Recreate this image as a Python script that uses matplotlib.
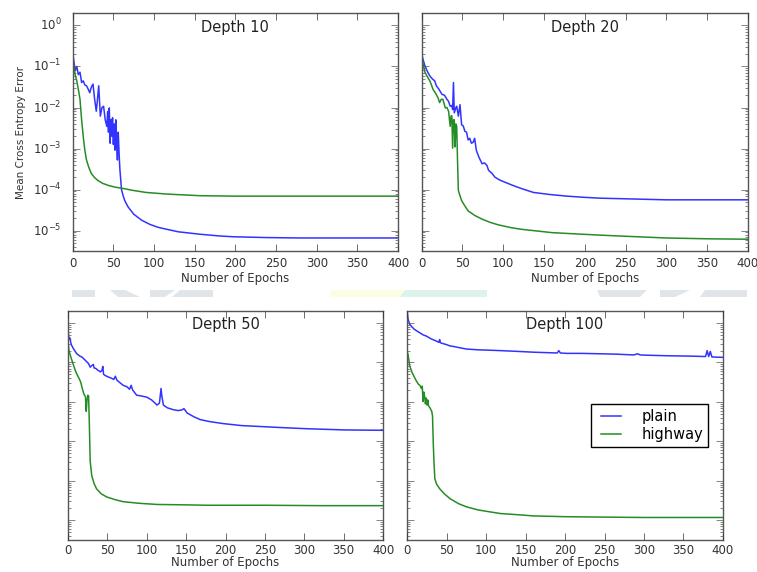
import numpy as np
import matplotlib
matplotlib.use("Agg")
import matplotlib.pyplot as plt
from matplotlib.patches import Polygon
from matplotlib import ticker

plt.style.use("classic")
plt.rcParams["figure.facecolor"] = "white"
plt.rcParams["savefig.facecolor"] = "white"
plt.rcParams["font.family"] = ["DejaVu Sans"]
plt.rcParams["mathtext.default"] = "regular"

# values: epoch, log10(mean cross entropy error)
d10_plain_ep = [0, 1, 3, 5, 7, 9, 11, 13, 15, 17, 19, 21, 23, 25, 27, 29, 30, 32, 34, 36, 38, 40,
                42, 43, 44, 45, 46, 47, 48, 49, 50, 51, 52, 53, 54, 55, 56, 57, 58, 60, 62, 64, 68,
                75, 85, 95, 105, 116, 130, 157, 180, 197, 238, 280, 320, 360, 400]
d10_plain = [-0.69, -0.8, -1.1, -1.0, -1.2, -1.14, -1.39, -1.35, -1.45, -1.47, -1.55, -1.64, -1.5,
             -1.43, -1.8, -2.09, -1.9, -1.47, -2.21, -2.0, -1.97, -2.3, -2.46, -2.1, -2.6, -2.01,
             -2.87, -2.3, -2.7, -2.25, -2.9, -2.4, -3.04, -2.3, -2.9, -3.28, -2.6, -3.1, -3.5,
             -4.0, -4.15, -4.27, -4.42, -4.6, -4.75, -4.85, -4.92, -4.97, -5.03, -5.09, -5.13,
             -5.15, -5.17, -5.18, -5.18, -5.18, -5.18]
d10_highway_ep = [0, 1, 3, 5, 7, 9, 11, 13, 15, 17, 20, 23, 27, 31, 37, 44, 52, 64, 74, 90, 116,
                  157, 200, 238, 300, 400]
d10_highway = [-0.8, -0.98, -1.19, -1.35, -1.56, -1.8, -2.3, -2.71, -3.05, -3.28, -3.47, -3.61,
               -3.71, -3.78, -3.85, -3.9, -3.94, -3.98, -4.02, -4.07, -4.11, -4.15, -4.16, -4.16,
               -4.16, -4.16]

d20_plain_ep = [0, 2, 4, 7, 10, 13, 16, 18, 21, 25, 28, 31, 33, 35, 37, 38, 39, 40, 42, 43, 45,
                47, 49, 51, 53, 55, 57, 59, 61, 63, 65, 67, 70, 74, 77, 80, 82, 86, 90, 96, 102,
                112, 123, 137, 157, 178, 200, 219, 260, 300, 350, 400]
d20_plain = [-0.69, -0.85, -0.98, -1.12, -1.23, -1.3, -1.35, -1.47, -1.55, -1.68, -1.7, -1.8,
             -1.85, -1.97, -1.95, -2.05, -1.39, -2.13, -2.0, -1.97, -2.21, -1.93, -2.42, -2.45,
             -2.58, -2.6, -2.79, -2.75, -2.87, -2.85, -2.75, -3.04, -3.2, -3.37, -3.35, -3.41,
             -3.53, -3.6, -3.7, -3.77, -3.82, -3.9, -3.98, -4.07, -4.12, -4.16, -4.19, -4.21,
             -4.23, -4.25, -4.25, -4.25]
d20_highway_ep = [0, 2, 4, 7, 10, 12, 14, 17, 20, 22, 24, 26, 29, 31, 33, 35, 36, 37, 38, 39, 40,
                  41, 42, 43, 44, 45, 47, 49, 53, 57, 65, 74, 84, 94, 110, 123, 137, 160, 198,
                  240, 300, 350, 400]
d20_highway = [-0.77, -0.95, -1.14, -1.25, -1.35, -1.45, -1.56, -1.65, -1.76, -1.88, -1.8, -1.8,
               -2.01, -2.0, -2.09, -2.46, -2.21, -2.2, -2.99, -2.3, -2.3, -2.96, -2.4, -2.46,
               -3.3, -4.02, -4.15, -4.27, -4.4, -4.52, -4.63, -4.72, -4.8, -4.86, -4.93, -4.97,
               -5.0, -5.05, -5.09, -5.13, -5.18, -5.2, -5.21]

d50_plain_ep = [0, 1, 2, 4, 7, 11, 15, 18, 22, 26, 28, 30, 32, 33, 35, 38, 41, 43, 44, 45, 47,
                50, 55, 58, 60, 62, 65, 70, 75, 78, 80, 82, 87, 93, 100, 106, 113, 116, 118, 119,
                121, 126, 134, 140, 145, 147, 149, 151, 160, 168, 180, 197, 220, 240, 270, 303,
                350, 400]
d50_plain = [-0.2, -0.41, -0.37, -0.55, -0.66, -0.78, -0.84, -0.87, -0.95, -1.03, -1.12, -1.08,
             -1.05, -1.14, -1.15, -1.2, -1.24, -1.2, -1.1, -1.3, -1.33, -1.36, -1.4, -1.43, -1.35,
             -1.45, -1.5, -1.58, -1.62, -1.68, -1.58, -1.7, -1.83, -1.85, -1.88, -1.95, -2.08,
             -2.03, -1.66, -1.85, -2.08, -2.15, -2.2, -2.22, -2.2, -2.17, -2.22, -2.28, -2.38,
             -2.45, -2.5, -2.55, -2.6, -2.62, -2.65, -2.68, -2.71, -2.72]
d50_highway_ep = [0, 1, 4, 7, 10, 14, 16, 18, 20, 22, 23, 24, 25, 26, 27, 28, 30, 33, 36, 42, 49,
                  60, 70, 90, 113, 150, 176, 250, 320, 400]
d50_highway = [-0.5, -0.7, -0.9, -1.08, -1.25, -1.41, -1.5, -1.66, -1.8, -1.87, -2.24, -1.95,
               -1.83, -1.85, -2.6, -3.5, -3.87, -4.07, -4.2, -4.33, -4.41, -4.48, -4.53, -4.57,
               -4.6, -4.61, -4.62, -4.62, -4.63, -4.63]

d100_plain_ep = [0, 1, 3, 6, 9, 12, 16, 20, 24, 30, 36, 40, 41, 42, 45, 50, 54, 60, 67, 75, 90,
                 105, 118, 140, 160, 190, 192, 194, 202, 220, 244, 265, 287, 292, 295, 310, 329,
                 360, 378, 380, 382, 384, 386, 398, 400]
d100_plain = [0.3, 0.1, -0.03, -0.1, -0.16, -0.2, -0.25, -0.3, -0.33, -0.4, -0.45, -0.49, -0.42,
              -0.5, -0.52, -0.55, -0.58, -0.6, -0.63, -0.66, -0.68, -0.69, -0.7, -0.72, -0.74,
              -0.76, -0.7, -0.76, -0.77, -0.77, -0.78, -0.79, -0.81, -0.78, -0.81, -0.82, -0.83,
              -0.84, -0.85, -0.7, -0.85, -0.72, -0.86, -0.87, -0.87]
d100_highway_ep = [0, 1, 3, 6, 8, 11, 14, 16, 18, 19, 20, 21, 22, 23, 24, 25, 26, 27, 29, 31, 32,
                   33, 34, 35, 37, 41, 47, 54, 65, 75, 90, 118, 140, 160, 200, 244, 300, 350, 400]
d100_highway = [-0.74, -0.8, -1.08, -1.25, -1.33, -1.45, -1.55, -1.58, -1.66, -1.6, -1.99, -1.75,
                -1.86, -2.05, -1.9, -2.08, -1.95, -2.1, -2.16, -2.24, -2.35, -3.08, -3.6, -3.95,
                -4.08, -4.2, -4.33, -4.45, -4.58, -4.66, -4.74, -4.83, -4.86, -4.89, -4.91,
                -4.92, -4.93, -4.93, -4.93]

titles = ["Depth 10", "Depth 20", "Depth 50", "Depth 100"]
xticks = [0, 50, 100, 150, 200, 250, 300, 350, 400]

panels = [
    (d10_plain_ep, d10_plain, d10_highway_ep, d10_highway),
    (d20_plain_ep, d20_plain, d20_highway_ep, d20_highway),
    (d50_plain_ep, d50_plain, d50_highway_ep, d50_highway),
    (d100_plain_ep, d100_plain, d100_highway_ep, d100_highway),
]

fig = plt.figure(figsize=(7.57, 5.72), dpi=100)

# faint watermark band between the rows
band = [
    ("#dfe5e8", [(72, 290), (95, 290), (95, 297), (72, 297)]),
    ("#dfe5e8", [(110, 290), (125, 290), (140, 297), (118, 297)]),
    ("#dfe5e8", [(150, 290), (175, 290), (165, 297), (150, 297)]),
    ("#dfe5e8", [(180, 290), (213, 290), (213, 297), (172, 297)]),
    ("#fdfde2", [(330, 290), (405, 290), (400, 297), (330, 297)]),
    ("#dcf2ea", [(405, 290), (487, 290), (487, 297), (400, 297)]),
    ("#dfe5e8", [(597, 290), (647, 290), (640, 297), (600, 297)]),
    ("#dfe5e8", [(660, 290), (690, 290), (675, 297), (660, 297)]),
    ("#dfe5e8", [(705, 290), (747, 290), (747, 297), (700, 297)]),
]
for col, pts in band:
    fig.patches.append(Polygon([(x / 757, 1 - y / 572) for x, y in pts], closed=True,
                               transform=fig.transFigure, facecolor=col, edgecolor="none",
                               zorder=0))

rects = [
    [0.096, 0.561, 0.430, 0.416],
    [0.557, 0.561, 0.431, 0.416],
    [0.090, 0.056, 0.416, 0.400],
    [0.538, 0.056, 0.417, 0.400],
]

for i, (r, (pe, pv, he, hv)) in enumerate(zip(rects, panels)):
    ax = fig.add_axes(r)
    ax.plot(pe, 10 ** np.array(pv), color=(0.2, 0.2, 1.0), lw=1.1, label="plain")
    ax.plot(he, 10 ** np.array(hv), color=(0.15, 0.55, 0.15), lw=1.1, label="highway")
    ax.set_yscale("log")
    ax.set_xlim(0, 400)
    ax.set_ylim(10 ** -5.5, 10 ** 0.3)
    ax.set_xticks(xticks)
    ax.yaxis.set_major_locator(ticker.LogLocator(base=10, numticks=20))
    ax.yaxis.set_minor_locator(ticker.LogLocator(base=10, subs=np.arange(2, 10), numticks=20))
    ax.yaxis.set_minor_formatter(ticker.NullFormatter())
    ax.text(0.5, 0.94, titles[i], transform=ax.transAxes, ha="center", va="center",
            fontsize=10.5, color="#222222")
    ax.tick_params(axis="both", which="major", labelsize=8.5, pad=4, colors="#333333",
                   length=5, direction="in")
    ax.tick_params(axis="y", which="minor", length=2.5, direction="in", colors="#555555",
                   left=True, right=True)
    ax.tick_params(axis="y", which="major", colors="#555555", labelcolor="#333333")
    for s in ax.spines.values():
        s.set_color("#555555")
    if i < 2:
        ax.set_xlabel("Number of Epochs", fontsize=8.5, labelpad=2, color="#333333")
    else:
        ax.tick_params(axis="x", which="major", pad=3)
        ax.set_xlabel("Number of Epochs", fontsize=8.5, labelpad=-1, color="#333333")
    if i == 0:
        ax.tick_params(axis="y", which="major", pad=8)
        ax.set_ylabel("Mean Cross Entropy Error", fontsize=7.5, labelpad=5, color="#333333")
    else:
        ax.yaxis.set_tick_params(labelleft=False)
    if i == 3:
        ax.legend(loc="center", bbox_to_anchor=(0.768, 0.5), fontsize=10.5, frameon=True,
                  fancybox=False, handlelength=2.0, borderpad=0.35, labelspacing=0.15,
                  handletextpad=1.1)

plt.savefig("out.png", dpi=100)
plt.close()
